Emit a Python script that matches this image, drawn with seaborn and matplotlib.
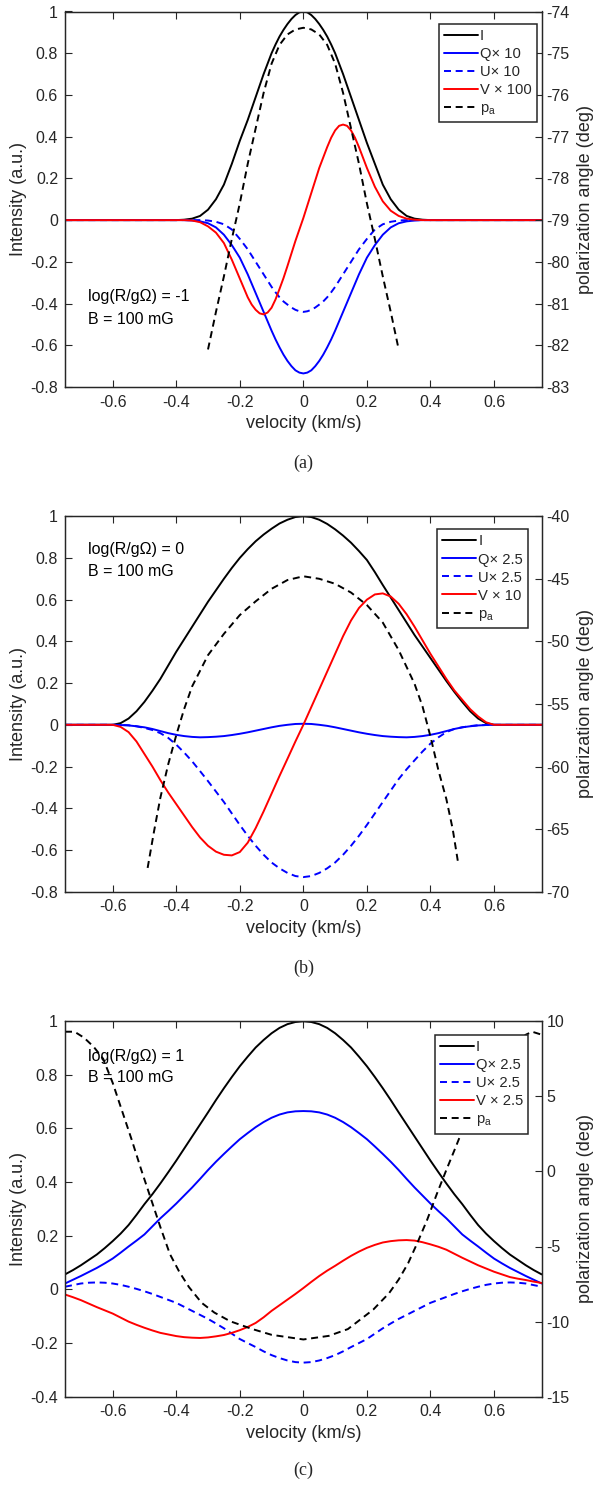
import matplotlib
matplotlib.use("Agg")
import matplotlib.pyplot as plt
import seaborn as sns

# ---------------- data ----------------
# panel (a): log(R/gOmega) = -1
v_a = [-0.75, -0.4, -0.375, -0.35, -0.325, -0.3, -0.275, -0.25, -0.225,
       -0.2, -0.1875, -0.175, -0.1625, -0.15, -0.1375, -0.125, -0.1125, -0.1, -0.0875, -0.075,
       -0.0625, -0.05, -0.0375, -0.025, -0.0125, 0.0, 0.0125, 0.025, 0.0375, 0.05, 0.0625,
       0.075, 0.0875, 0.1, 0.1125, 0.125, 0.1375, 0.15, 0.1625, 0.175, 0.1875, 0.2,
       0.225, 0.25, 0.275, 0.3, 0.325, 0.35, 0.375, 0.4, 0.75]
I_a = [0, 0, 0.002, 0.007, 0.02, 0.05, 0.10, 0.17, 0.27,
       0.38, 0.43, 0.48, 0.535, 0.59, 0.645, 0.70, 0.75, 0.80, 0.842, 0.88, 0.912, 0.94,
       0.964, 0.983, 0.996, 1.0, 0.996, 0.983, 0.964, 0.94, 0.912, 0.88, 0.842, 0.80, 0.75,
       0.70, 0.645, 0.59, 0.535, 0.48, 0.425, 0.37,
       0.27, 0.17, 0.10, 0.05, 0.02, 0.007, 0.002, 0, 0]
Q_a = [0, 0, 0, -0.002, -0.006, -0.015, -0.035, -0.07, -0.12,
       -0.18, -0.22, -0.26, -0.305, -0.35, -0.395, -0.44, -0.485, -0.53, -0.572, -0.61, -0.645,
       -0.675, -0.70, -0.72, -0.731, -0.735, -0.731, -0.72, -0.70, -0.675, -0.645, -0.61,
       -0.572, -0.53, -0.485, -0.44, -0.395, -0.35, -0.305, -0.26, -0.22, -0.18,
       -0.12, -0.07, -0.035, -0.015, -0.006, -0.002, 0, 0, 0]
U_a = [0, 0, 0, 0, 0, -0.002, -0.008, -0.02, -0.045,
       -0.09, -0.115, -0.14, -0.17, -0.2, -0.23, -0.26, -0.29, -0.32, -0.346, -0.37, -0.39,
       -0.405, -0.419, -0.43, -0.437, -0.44, -0.437, -0.43, -0.419, -0.405, -0.39, -0.37,
       -0.346, -0.32, -0.29, -0.26, -0.23, -0.2, -0.17, -0.14, -0.115, -0.09,
       -0.045, -0.02, -0.008, -0.002, 0, 0, 0, 0, 0]
V_a = [0, 0, 0, -0.002, -0.01, -0.03, -0.06, -0.11, -0.19,
       -0.28, -0.325, -0.37, -0.405, -0.43, -0.447, -0.452, -0.443, -0.42, -0.38, -0.33,
       -0.278, -0.22, -0.16, -0.1, -0.045, 0.01, 0.07, 0.13, 0.19, 0.25, 0.30, 0.35, 0.395,
       0.43, 0.452, 0.458, 0.452, 0.43, 0.395, 0.35, 0.30, 0.25,
       0.16, 0.09, 0.045, 0.02, 0.007, 0.002, 0, 0, 0]
vp_a = [-0.3, -0.275, -0.25, -0.225, -0.2, -0.175, -0.15, -0.125, -0.1, -0.075, -0.05, -0.025,
        0.0, 0.025, 0.05, 0.075, 0.1, 0.125, 0.15, 0.175, 0.2, 0.225, 0.25, 0.275, 0.3]
pa_a = [-82.1, -81.2, -80.35, -79.45, -78.6, -77.65, -76.8, -75.95, -75.25, -74.8, -74.55,
        -74.43, -74.39, -74.43, -74.55, -74.8, -75.25, -75.95, -76.8, -77.65, -78.6, -79.45,
        -80.35, -81.2, -82.1]

# panel (b): log(R/gOmega) = 0
v_b = [-0.75, -0.6, -0.575, -0.55, -0.525, -0.5, -0.475, -0.45, -0.425, -0.4, -0.375, -0.35,
       -0.325, -0.3, -0.275, -0.25, -0.225, -0.2, -0.175, -0.15, -0.125, -0.1, -0.075, -0.05,
       -0.025, 0.0, 0.025, 0.05, 0.075, 0.1, 0.125, 0.15, 0.175, 0.2, 0.225, 0.25, 0.275, 0.3,
       0.325, 0.35, 0.375, 0.4, 0.425, 0.45, 0.475, 0.5, 0.525, 0.55, 0.575, 0.6, 0.75]
I_b = [0, 0, 0.008, 0.03, 0.065, 0.11, 0.163, 0.22, 0.285, 0.35, 0.41, 0.47, 0.53, 0.59,
       0.645, 0.70, 0.752, 0.80, 0.842, 0.88, 0.912, 0.94, 0.965, 0.983, 0.996, 1.0, 0.996,
       0.983, 0.963, 0.937, 0.907, 0.873, 0.833, 0.79, 0.732, 0.67, 0.61, 0.55, 0.49, 0.43,
       0.375, 0.32, 0.265, 0.21, 0.158, 0.11, 0.065, 0.03, 0.008, 0, 0]
Q_b = [0, 0, -0.001, -0.003, -0.007, -0.012, -0.02, -0.03, -0.04, -0.048, -0.054, -0.058,
       -0.06, -0.059, -0.057, -0.054, -0.049, -0.043, -0.036, -0.028, -0.02, -0.012, -0.005,
       0.0, 0.004, 0.005, 0.004, 0.0, -0.005, -0.012, -0.02, -0.028, -0.036, -0.043, -0.049,
       -0.054, -0.057, -0.059, -0.06, -0.058, -0.054, -0.048, -0.04, -0.03, -0.02, -0.012,
       -0.007, -0.003, -0.001, 0, 0]
U_b = [0, 0, -0.001, -0.002, -0.007, -0.015, -0.025, -0.04, -0.063, -0.095, -0.133, -0.175,
       -0.222, -0.27, -0.32, -0.37, -0.425, -0.48, -0.532, -0.58, -0.623, -0.66, -0.688, -0.71,
       -0.725, -0.73, -0.725, -0.71, -0.688, -0.66, -0.623, -0.58, -0.532, -0.48, -0.425,
       -0.37, -0.315, -0.26, -0.213, -0.17, -0.128, -0.09, -0.06, -0.035, -0.02, -0.012,
       -0.006, -0.002, -0.001, 0, 0]
V_b = [0, 0, -0.01, -0.035, -0.08, -0.14, -0.2, -0.265, -0.325, -0.38, -0.435, -0.49, -0.54,
       -0.58, -0.608, -0.623, -0.626, -0.61, -0.565, -0.495, -0.415, -0.33, -0.245, -0.163,
       -0.08, 0.0, 0.085, 0.17, 0.255, 0.34, 0.425, 0.50, 0.56, 0.60, 0.625, 0.63, 0.615, 0.58,
       0.53, 0.47, 0.405, 0.34, 0.28, 0.22, 0.165, 0.12, 0.075, 0.04, 0.012, 0, 0]
vp_b = [-0.49, -0.47, -0.45, -0.425, -0.4, -0.375, -0.35, -0.3, -0.25, -0.2, -0.15, -0.1,
        -0.05, 0.0, 0.05, 0.1, 0.15, 0.2, 0.25, 0.3, 0.35, 0.375, 0.4, 0.425, 0.45, 0.47, 0.487]
pa_b = [-68.1, -65.2, -62.5, -59.8, -57.5, -55.4, -53.6, -51.1, -49.4, -47.9, -46.8, -45.8,
        -45.1, -44.8, -45.0, -45.4, -46.1, -47.1, -48.5, -50.7, -53.4, -55.2, -57.6, -60.3,
        -62.6, -65.0, -67.7]

# panel (c): log(R/gOmega) = 1
v_c = [-0.75, -0.725, -0.7, -0.675, -0.65, -0.625, -0.6, -0.575, -0.55, -0.525, -0.5, -0.475,
       -0.45, -0.425, -0.4, -0.375, -0.35, -0.325, -0.3, -0.275, -0.25, -0.225, -0.2, -0.175,
       -0.15, -0.125, -0.1, -0.075, -0.05, -0.025, 0.0, 0.025, 0.05, 0.075, 0.1, 0.125, 0.15,
       0.175, 0.2, 0.225, 0.25, 0.275, 0.3, 0.325, 0.35, 0.375, 0.4, 0.425, 0.45, 0.475, 0.5,
       0.525, 0.55, 0.575, 0.6, 0.625, 0.65, 0.675, 0.7, 0.725, 0.75]
I_c = [0.056, 0.072, 0.09, 0.11, 0.13, 0.154, 0.18, 0.208, 0.24, 0.278, 0.318, 0.355, 0.395,
       0.437, 0.48, 0.525, 0.57, 0.615, 0.66, 0.706, 0.75, 0.792, 0.832, 0.868, 0.902, 0.93,
       0.955, 0.975, 0.989, 0.997, 1.0, 0.997, 0.989, 0.975, 0.955, 0.93, 0.902, 0.868, 0.832,
       0.792, 0.75, 0.706, 0.66, 0.615, 0.57, 0.525, 0.48, 0.437, 0.395, 0.355, 0.318, 0.278,
       0.24, 0.208, 0.18, 0.154, 0.13, 0.11, 0.09, 0.072, 0.056]
Q_c = [0.022, 0.036, 0.05, 0.065, 0.08, 0.097, 0.115, 0.137, 0.16, 0.182, 0.205, 0.235, 0.265,
       0.292, 0.32, 0.35, 0.38, 0.412, 0.445, 0.476, 0.505, 0.533, 0.56, 0.583, 0.605, 0.624,
       0.64, 0.652, 0.66, 0.664, 0.665, 0.664, 0.66, 0.652, 0.64, 0.624, 0.605, 0.583, 0.56,
       0.533, 0.505, 0.476, 0.445, 0.412, 0.38, 0.35, 0.32, 0.292, 0.265, 0.235, 0.205, 0.182,
       0.16, 0.137, 0.115, 0.097, 0.08, 0.065, 0.05, 0.036, 0.022]
U_c = [0.01, 0.016, 0.022, 0.025, 0.026, 0.025, 0.022, 0.017, 0.01, 0.002, -0.007, -0.017,
       -0.028, -0.039, -0.05, -0.065, -0.08, -0.095, -0.11, -0.127, -0.145, -0.165, -0.185,
       -0.2, -0.215, -0.231, -0.245, -0.256, -0.265, -0.271, -0.273, -0.271, -0.265, -0.256,
       -0.245, -0.231, -0.215, -0.2, -0.185, -0.165, -0.145, -0.127, -0.11, -0.095, -0.08,
       -0.065, -0.05, -0.039, -0.028, -0.017, -0.007, 0.002, 0.01, 0.017, 0.022, 0.025, 0.026,
       0.025, 0.022, 0.016, 0.01]
V_c = [-0.019, -0.029, -0.04, -0.053, -0.066, -0.078, -0.09, -0.105, -0.12, -0.132, -0.143,
       -0.153, -0.162, -0.168, -0.174, -0.178, -0.18, -0.181, -0.179, -0.175, -0.17, -0.162,
       -0.152, -0.14, -0.125, -0.104, -0.08, -0.059, -0.038, -0.017, 0.005, 0.028, 0.05, 0.07,
       0.088, 0.107, 0.125, 0.141, 0.155, 0.166, 0.175, 0.18, 0.183, 0.184, 0.182, 0.176,
       0.168, 0.159, 0.148, 0.133, 0.118, 0.104, 0.09, 0.078, 0.066, 0.056, 0.046, 0.04,
       0.035, 0.029, 0.024]
vp_c = [-0.75, -0.72, -0.69, -0.66, -0.63, -0.6, -0.57, -0.54, -0.51, -0.48, -0.45, -0.42,
        -0.39, -0.36, -0.32, -0.28, -0.23, -0.16, -0.1, 0.0, 0.08, 0.14, 0.22, 0.27, 0.3, 0.33,
        0.36, 0.39, 0.42, 0.45, 0.48, 0.51, 0.55, 0.6, 0.65, 0.7, 0.72, 0.75]
pa_c = [9.3, 9.3, 8.9, 8.3, 7.5, 5.9, 4.0, 2.1, 0.1, -1.8, -3.7, -5.5, -6.7, -7.7, -8.75, -9.4,
        -9.98, -10.5, -10.88, -11.19, -10.95, -10.5, -9.2, -8.1, -7.2, -6.1, -4.7, -3.2, -1.5,
        0.1, 1.65, 3.25, 5.1, 6.9, 8.2, 9.1, 9.3, 9.1]

# tick values / labels
x_ticks = [-0.6, -0.4, -0.2, 0, 0.2, 0.4, 0.6]
x_ticklabels = ["-0.6", "-0.4", "-0.2", "0", "0.2", "0.4", "0.6"]
yl_ticks_ab = [-0.8, -0.6, -0.4, -0.2, 0, 0.2, 0.4, 0.6, 0.8, 1]
yl_labels_ab = ["-0.8", "-0.6", "-0.4", "-0.2", "0", "0.2", "0.4", "0.6", "0.8", "1"]
yl_ticks_c = [-0.4, -0.2, 0, 0.2, 0.4, 0.6, 0.8, 1]
yl_labels_c = ["-0.4", "-0.2", "0", "0.2", "0.4", "0.6", "0.8", "1"]
yr_ticks_a = [-83, -82, -81, -80, -79, -78, -77, -76, -75, -74]
yr_ticks_b = [-70, -65, -60, -55, -50, -45, -40]
yr_ticks_c = [-15, -10, -5, 0, 5, 10]

legend_a = ["I", "Q× 10", "U× 10", "V × 100", "p$_\\mathregular{a}$"]
legend_b = ["I", "Q× 2.5", "U× 2.5", "V × 10", "p$_\\mathregular{a}$"]
legend_c = ["I", "Q× 2.5", "U× 2.5", "V × 2.5", "p$_\\mathregular{a}$"]
ann_a = ["log(R/gΩ) = -1", "B = 100 mG"]
ann_b = ["log(R/gΩ) = 0", "B = 100 mG"]
ann_c = ["log(R/gΩ) = 1", "B = 100 mG"]
captions = ["(a)", "(b)", "(c)"]

# ---------------- style ----------------
sns.set_style("ticks")
plt.rcParams["font.family"] = ["Liberation Sans", "DejaVu Sans"]
plt.rcParams["axes.unicode_minus"] = False
plt.rcParams["mathtext.default"] = "regular"
plt.rcParams["lines.solid_joinstyle"] = "round"
plt.rcParams["lines.dash_joinstyle"] = "round"

LW = 1.4
DASH = (3.6, 2.4)
SPINE = "#262626"
TICK_FS = 11.5
LAB_FS = 13

fig = plt.figure(figsize=(5.98, 14.86), dpi=100)

left = 65 / 598
width = 476.7 / 598
height = 375.5 / 1486
bottoms = [1 - 387.0 / 1486, 1 - 891.7 / 1486, 1 - 1396.7 / 1486]
cap_y = [1 - 463.0 / 1486, 1 - 968.0 / 1486, 1 - 1470.0 / 1486]


def panel(bottom, v, I, Q, U, V, vp, pa, ylim, yl_ticks, yl_labels, yr_lim, yr_ticks,
          labels, ann, ann_y, leg_anchor):
    ax = fig.add_axes([left, bottom, width, height])
    sns.lineplot(x=v, y=I, ax=ax, color="k", lw=LW, errorbar=None, legend=False)
    sns.lineplot(x=v, y=Q, ax=ax, color="#0000ff", lw=LW, errorbar=None, legend=False)
    sns.lineplot(x=v, y=U, ax=ax, color="#0000ff", lw=LW, errorbar=None, legend=False)
    ax.lines[-1].set_dashes(DASH)
    sns.lineplot(x=v, y=V, ax=ax, color="#ff0000", lw=LW, errorbar=None, legend=False)
    ax.set_xlim(-0.75, 0.75)
    ax.set_ylim(*ylim)
    ax.set_xticks(x_ticks)
    ax.set_xticklabels(x_ticklabels)
    ax.set_yticks(yl_ticks)
    ax.set_yticklabels(yl_labels)
    ax.tick_params(axis="x", direction="in", top=True, bottom=True, length=5, width=0.8,
                   color=SPINE, pad=5.5, labelsize=TICK_FS)
    ax.tick_params(axis="y", direction="in", left=True, right=False, length=5, width=0.8,
                   color=SPINE, pad=5, labelsize=TICK_FS)
    ax.set_xlabel("velocity (km/s)", fontsize=LAB_FS, va="center")
    ax.xaxis.set_label_coords(0.5, -0.097)
    ax.set_ylabel("Intensity (a.u.)", fontsize=LAB_FS, va="center")
    ax.yaxis.set_label_coords(-0.098, 0.5)
    for s in ax.spines.values():
        s.set_visible(True)
        s.set_color(SPINE)
        s.set_linewidth(0.9)
    for i, t in enumerate(ann):
        ax.text(0.049, ann_y[i], t, transform=ax.transAxes, fontsize=11.5, va="center",
                ha="left", color="k")

    ax2 = ax.twinx()
    sns.lineplot(x=vp, y=pa, ax=ax2, color="k", lw=LW, errorbar=None, legend=False)
    ax2.lines[-1].set_dashes(DASH)
    ax2.set_ylim(*yr_lim)
    ax2.set_yticks(yr_ticks)
    ax2.set_yticklabels([str(t) for t in yr_ticks])
    ax2.tick_params(axis="y", direction="in", right=True, length=5, width=0.8, color=SPINE,
                    pad=3.5, labelsize=TICK_FS)
    ax2.set_ylabel("polarization angle (deg)", fontsize=LAB_FS, va="center", rotation=90)
    ax2.yaxis.set_label_coords(1.091, 0.5)
    for s in ax2.spines.values():
        s.set_color(SPINE)
        s.set_linewidth(0.9)

    handles = ax.lines[:4] + ax2.lines[:1]
    leg = ax2.legend(handles, labels, loc="upper right", bbox_to_anchor=leg_anchor,
                     borderaxespad=0, fontsize=10.6, frameon=True, fancybox=False,
                     edgecolor=SPINE, framealpha=1, handlelength=2.3, handletextpad=0.15,
                     labelspacing=0.275, borderpad=0.35)
    leg.get_frame().set_linewidth(1.1)
    return ax, ax2


panel(bottoms[0], v_a, I_a, Q_a, U_a, V_a, vp_a, pa_a, (-0.8, 1), yl_ticks_ab, yl_labels_ab,
      (-83, -74), yr_ticks_a, legend_a, ann_a, [0.24, 0.179], (0.99, 0.968))
panel(bottoms[1], v_b, I_b, Q_b, U_b, V_b, vp_b, pa_b, (-0.8, 1), yl_ticks_ab, yl_labels_ab,
      (-70, -40), yr_ticks_b, legend_b, ann_b, [0.91, 0.852], (0.972, 0.965))
panel(bottoms[2], v_c, I_c, Q_c, U_c, V_c, vp_c, pa_c, (-0.4, 1), yl_ticks_c, yl_labels_c,
      (-15, 10), yr_ticks_c, legend_c, ann_c, [0.907, 0.85], (0.972, 0.963))

for i, c in enumerate(captions):
    fig.text(303.5 / 598, cap_y[i], c, ha="center", va="center", fontsize=13,
             family=["Liberation Serif", "DejaVu Serif"])

fig.savefig("out.png", dpi=100)
